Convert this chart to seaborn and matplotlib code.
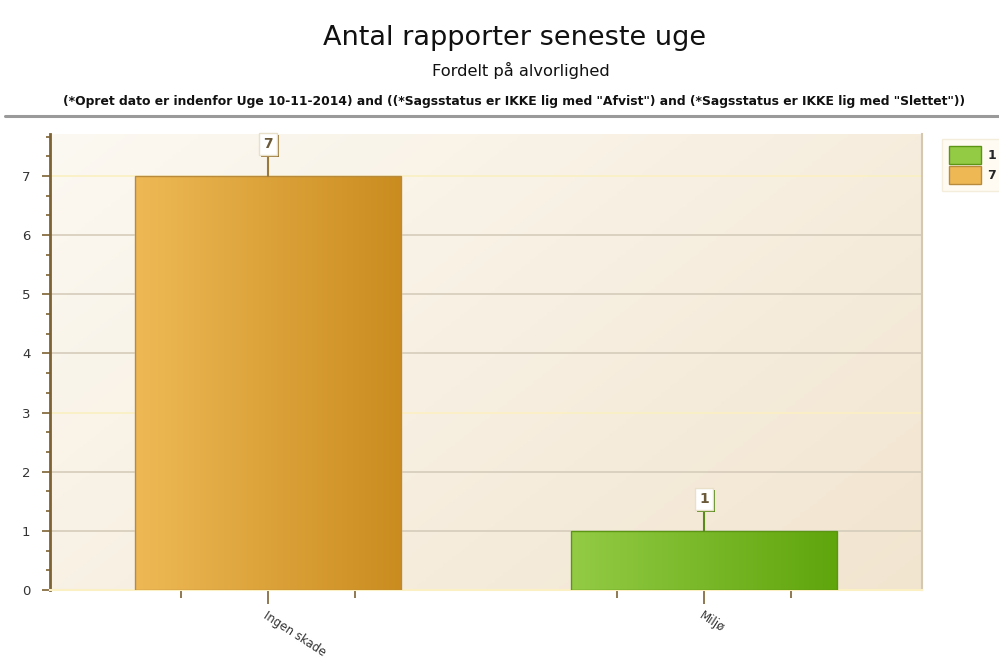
import numpy as np
import pandas as pd
import matplotlib
matplotlib.use("Agg")
import matplotlib.pyplot as plt
import seaborn as sns
from matplotlib.colors import LinearSegmentedColormap
from matplotlib.lines import Line2D
from matplotlib.patches import Patch, Rectangle
from matplotlib.ticker import MultipleLocator, FixedLocator
import matplotlib.patheffects as pe

# Data
categories = ["Ingen skade", "Miljø"]
values = [7, 1]
legend_labels = ["1", "7"]
title = "Antal rapporter seneste uge"
subtitle = "Fordelt på alvorlighed"
filter_text = ('(*Opret dato er indenfor Uge 10-11-2014) and ((*Sagsstatus er IKKE lig med "Afvist") '
               'and (*Sagsstatus er IKKE lig med "Slettet"))')

# Bar gradients (light -> dark), edges, label accents
grad_light = ["#eeb955", "#93cb45"]
grad_dark = ["#ca8c1f", "#5fa50c"]
edge_cols = ["#b88a3c", "#5c9414"]
accent_cols = ["#9a7a3a", "#5a8a1a"]

sns.set_theme(style="white")
plt.rcParams["font.family"] = ["DejaVu Sans"]

fig = plt.figure(figsize=(9.99, 6.67), dpi=100)
ax = fig.add_axes([50 / 999, 1 - 590 / 667, 872 / 999, 456 / 667])

df = pd.DataFrame({"cat": categories, "val": values})
sns.barplot(data=df, x="cat", y="val", hue="cat", palette=grad_light, legend=False,
            width=0.61, ax=ax, zorder=3, saturation=1)

# Plot-area background gradient
bg = LinearSegmentedColormap.from_list("bg", ["#fcf9f2", "#f2e5d0"])
gx, gy = np.meshgrid(np.linspace(0, 1, 200), np.linspace(0, 1, 200))
ax.imshow(0.6 * gx + 0.4 * gy, cmap=bg, extent=(0, 1, 0, 1), transform=ax.transAxes,
          aspect="auto", zorder=0, origin="upper", vmin=0, vmax=1)
ax.set_xlim(-0.5, 1.5)
ax.set_ylim(0, 7.71)

# Horizontal gradient inside each bar
for i, patch in enumerate(ax.patches):
    x0, y0 = patch.get_x(), patch.get_y()
    w, h = patch.get_width(), patch.get_height()
    cmap = LinearSegmentedColormap.from_list(f"b{i}", [grad_light[i], grad_dark[i]])
    img = ax.imshow(np.linspace(0, 1, 256).reshape(1, -1), cmap=cmap,
                    extent=(x0, x0 + w, y0, y0 + h), aspect="auto", zorder=3.5)
    img.set_clip_path(patch)
    ax.add_patch(Rectangle((x0, y0), w, h, fill=False, edgecolor=edge_cols[i],
                           linewidth=1.0, zorder=4))

# Value labels with connectors
for i, (cat, v) in enumerate(zip(categories, values)):
    ann = ax.annotate(str(v), xy=(i, v), xytext=(0, 32), textcoords="offset pixels",
                      ha="center", va="center", fontsize=10, fontweight="bold", color="#6a5a3a",
                      bbox=dict(boxstyle="square,pad=0.3", fc="white", ec="#e8e0c8", lw=1),
                      arrowprops=dict(arrowstyle="-", color=accent_cols[i], lw=1.5,
                                      shrinkA=0, shrinkB=0),
                      zorder=6, annotation_clip=False)
    ann.get_bbox_patch().set_path_effects([
        pe.SimplePatchShadow(offset=(1.5, -1.5), shadow_rgbFace=accent_cols[i], alpha=1),
        pe.Normal()])

# Y axis: ticks, minor ticks, grid
ax.yaxis.set_major_locator(MultipleLocator(1))
ax.yaxis.set_minor_locator(MultipleLocator(1 / 3))
ax.tick_params(axis="y", which="major", left=True, length=6, width=1.2, color="#7d6233",
               labelsize=9.5, labelcolor="#333333", pad=8)
ax.tick_params(axis="y", which="minor", left=True, length=3, width=1.2, color="#7d6233")
ax.grid(axis="y", which="major", color="#d6ccbb", linewidth=1.2, zorder=1)
ax.set_axisbelow(True)
for t, loc in zip(ax.yaxis.get_major_ticks(), ax.yaxis.get_majorticklocs()):
    if round(loc) in (0, 3, 7):
        t.gridline.set_color("#fbf0c2")

# X axis: category ticks plus minor ticks beneath the bars
ax.set_xticks(range(len(categories)))
ax.set_xticklabels(categories, rotation=-33, ha="left", va="top", rotation_mode="anchor",
                   fontsize=8.5, color="#333333")
ax.xaxis.set_minor_locator(FixedLocator([-0.2, 0.2, 0.8, 1.2]))
ax.tick_params(axis="x", which="major", bottom=True, length=10, width=1.2, color="#7d6233", pad=4)
ax.tick_params(axis="x", which="minor", bottom=True, length=6, width=1.2, color="#7d6233")
ax.set_xlabel("")
ax.set_ylabel("")

# Spines
for s in ax.spines.values():
    s.set_visible(False)
ax.spines["left"].set_visible(True)
ax.spines["left"].set_color("#7d6233")
ax.spines["left"].set_linewidth(2)
ax.spines["right"].set_visible(True)
ax.spines["right"].set_color("#d4c8b0")
ax.spines["right"].set_linewidth(1.5)
ax.spines["bottom"].set_visible(True)
ax.spines["bottom"].set_color("#fbefc4")
ax.spines["bottom"].set_linewidth(1.5)

# Titles
fig.text(0.515, 1 - 38 / 667, title, ha="center", va="center", fontsize=19.5,
         color="#111111")
fig.text(0.521, 1 - 70 / 667, subtitle, ha="center", va="center", fontsize=11.7,
         color="#111111")
fig.text(0.515, 1 - 101 / 667, filter_text, ha="center", va="center", fontsize=8.9,
         fontweight="bold", color="#111111")
fig.add_artist(Line2D([5 / 999, 1.0], [1 - 116 / 667] * 2, transform=fig.transFigure,
                      color="#9a9a9a", linewidth=2.2))

# Legend
handles = [Patch(facecolor=grad_light[1], edgecolor=edge_cols[1], label=legend_labels[0]),
           Patch(facecolor=grad_light[0], edgecolor=edge_cols[0], label=legend_labels[1])]
leg = fig.legend(handles=handles, loc="upper left", bbox_to_anchor=(936 / 999, 1 - 133 / 667),
                 frameon=True, fontsize=9, handlelength=2.6, handleheight=1.9,
                 labelspacing=0.15, borderpad=0.5, handletextpad=0.5, fancybox=False)
leg.get_frame().set_facecolor("#fffbef")
leg.get_frame().set_edgecolor("#f3ead4")
for txt in leg.get_texts():
    txt.set_fontweight("bold")

fig.savefig("out.png", dpi=100)
